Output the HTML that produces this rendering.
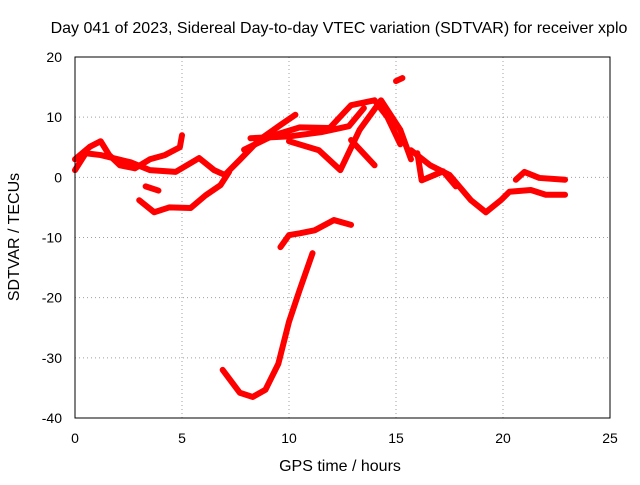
<!DOCTYPE html>
<html><head><meta charset="utf-8"><style>
body{margin:0;background:#fff}
svg{font-family:"Liberation Sans",sans-serif}
</style></head><body>
<svg id="chart" width="640" height="480">
<text x="339" y="33" text-anchor="middle" font-size="16">Day 041 of 2023, Sidereal Day-to-day VTEC variation (SDTVAR) for receiver xplo</text>
<g id="grid"></g>
<g id="series"></g>
<rect x="75" y="57" width="535" height="361" fill="none" stroke="#000"/>
<g id="ticks"></g>
<text x="19" y="237" transform="rotate(-90 19 237)" text-anchor="middle" font-size="16">SDTVAR / TECUs</text>
<text x="340" y="471" text-anchor="middle" font-size="16">GPS time / hours</text>
</svg>
<script>
const xTicks=[0,5,10,15,20,25];
const yTicks=[20,10,0,-10,-20,-30,-40];
const traceJ=[[6.9,-32],[7.7,-35.8],[8.3,-36.5],[8.9,-35.3],[9.5,-31],[10.0,-24],[10.5,-18.7],[11.1,-12.6]];
const traceMinus10=[[9.6,-11.6],[10.0,-9.6],[10.5,-9.3],[11.2,-8.8],[12.1,-7.1],[12.9,-7.9]];
const traceMinus5=[[3.0,-3.8],[3.7,-5.8],[4.4,-5],[5.4,-5.1],[6.1,-3],[6.8,-1.3],[7.2,0.9]];
const traceMorningA=[[0,3],[0.7,5.1],[1.2,6],[1.6,3.7],[2.1,2],[2.8,1.5],[3.5,3],[4.2,3.7],[4.9,5],[5.0,7]];
const traceMorningB=[[0,1.2],[0.5,4],[1.2,3.7],[2.6,2.5],[3.5,1.2],[4.7,0.9],[5.8,3.2],[6.5,1.2],[7.0,0.4],[7.7,2.9],[8.6,6.2],[9.6,8.7],[10.3,10.4]];
const traceShort=[[3.3,-1.5],[3.9,-2.2]];
const traceMidA=[[7.9,4.6],[9.3,7],[10.5,8.3],[11.9,8.2],[12.9,12],[14.0,12.8],[14.6,10],[15.2,5.5]];
const traceMidB=[[10.0,6],[11.4,4.5],[12.4,1.2],[13.3,7.9],[14.3,12.8],[15.2,7.9],[15.7,3]];
const traceMidC=[[12.9,6.2],[14.0,2.0]];
const traceMidD=[[8.2,6.5],[10,6.8],[11.5,7.5],[12.8,8.5],[13.5,11.5]];
const traceSpike=[[15.0,16],[15.3,16.5]];
const traceEveA=[[15.7,4.5],[16.6,2],[17.5,0.4],[18.5,-3.8],[19.2,-5.8],[19.9,-3.8],[20.3,-2.4],[21.3,-2.1],[22,-2.9],[22.9,-2.9]];
const traceEveB=[[20.6,-0.4],[21,0.9],[21.7,-0.1],[22.9,-0.4]];
const traceEveC=[[16.0,4],[16.2,-0.5],[17.2,1],[17.8,-1.5]];
const allTraces=[traceJ,traceMinus10,traceMinus5,traceMorningA,traceMorningB,traceShort,traceMidA,traceMidB,traceMidC,traceMidD,traceSpike,traceEveA,traceEveB,traceEveC];
const X=h=>75+h*21.4, Y=v=>57+(20-v)*6.017;
const NS='http://www.w3.org/2000/svg';
const grid=document.getElementById('grid'),ticks=document.getElementById('ticks'),ser=document.getElementById('series');
function mk(tag,at,parent){const e=document.createElementNS(NS,tag);for(const k in at)e.setAttribute(k,at[k]);parent.appendChild(e);return e;}
xTicks.forEach(t=>{
 if(t>0&&t<25){const g=mk('line',{x1:X(t),x2:X(t),y1:57,y2:418,stroke:'#a0a0a0','stroke-dasharray':'1,3'},grid);
 
 }
 const l=mk('text',{x:X(t),y:443,'text-anchor':'middle','font-size':14},ticks);l.textContent=t;
 
 
});
yTicks.forEach(t=>{
 if(t<20&&t>-40){const g=mk('line',{x1:75,x2:610,y1:Y(t),y2:Y(t),stroke:'#a0a0a0','stroke-dasharray':'1,3'},grid);
 
 }
 const l=mk('text',{x:62,y:Y(t)+5,'text-anchor':'end','font-size':14},ticks);l.textContent=t;
 
 
});
allTraces.forEach(tr=>{
 const p=mk('polyline',{points:tr.map(d=>X(d[0])+','+Y(d[1])).join(' '),fill:'none',stroke:'#f00','stroke-width':6,'stroke-linejoin':'round','stroke-linecap':'round'},ser);
 
 
});
</script>
</body></html>
